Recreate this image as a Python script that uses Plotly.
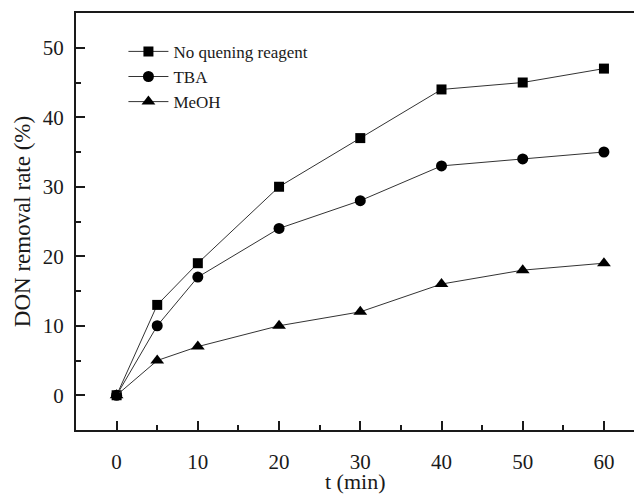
import plotly.graph_objects as go

t_min = [0, 5, 10, 20, 30, 40, 50, 60]
no_quenching = [0, 13, 19, 30, 37, 44, 45, 47]
tba = [0, 10, 17, 24, 28, 33, 34, 35]
meoh = [0, 5, 7, 10, 12, 16, 18, 19]
series_names = ["No quening reagent", "TBA", "MeOH"]
x_title = "t (min)"
y_title = "DON removal rate (%)"

FONT = "Liberation Serif, Times New Roman, serif"

fig = go.Figure()
for name, vals, sym, sz in [
    (series_names[0], no_quenching, "square", 10),
    (series_names[1], tba, "circle", 11),
    (series_names[2], meoh, "triangle-up", 12),
]:
    fig.add_trace(go.Scatter(
        x=t_min, y=vals, name=name, mode="lines+markers",
        line=dict(color="#333333", width=1),
        marker=dict(symbol=sym, size=sz, color="black"),
    ))

axis_common = dict(
    showgrid=False, zeroline=False, showline=True, linecolor="#1a1a1a", linewidth=2,
    ticks="inside", ticklen=9, tickwidth=1.5, tickcolor="#1a1a1a",
    tickfont=dict(family=FONT, size=21, color="#1a1a1a"),
    title_font=dict(family=FONT, size=23, color="#1a1a1a"),
)

fig.update_xaxes(
    range=[-5, 63.7], tickmode="array", tickvals=[0, 10, 20, 30, 40, 50, 60],
    minor=dict(ticks="inside", ticklen=5, tickwidth=1.5, tickcolor="#1a1a1a", dtick=5, tick0=5),
    mirror=True, ticklabelstandoff=12,
    **axis_common,
)
fig.update_yaxes(
    range=[-5, 55], tickmode="array", tickvals=[0, 10, 20, 30, 40, 50],
    minor=dict(ticks="inside", ticklen=5, tickwidth=1.5, tickcolor="#1a1a1a", dtick=5, tick0=5),
    ticklabelstandoff=6,
    title=dict(text=y_title, standoff=6),
    **axis_common,
)

fig.add_annotation(
    text=x_title, xref="paper", yref="paper", x=0.5, y=-0.159,
    xanchor="center", yanchor="bottom", showarrow=False,
    font=dict(family=FONT, size=22, color="#1a1a1a"),
)

fig.update_layout(
    width=634, height=498,
    margin=dict(l=76, r=0, t=13, b=68, autoexpand=False),
    paper_bgcolor="white", plot_bgcolor="white",
    showlegend=True,
    legend=dict(
        x=0.085, y=0.95, xanchor="left", yanchor="top",
        bgcolor="rgba(0,0,0,0)", font=dict(family=FONT, size=17, color="#1a1a1a"),
        tracegroupgap=0, itemwidth=40,
    ),
    font=dict(family=FONT),
)

fig.write_html(
    "out.html",
    config={"displayModeBar": False},
    post_script="document.body.style.margin='0';document.body.style.overflow='hidden';",
)
